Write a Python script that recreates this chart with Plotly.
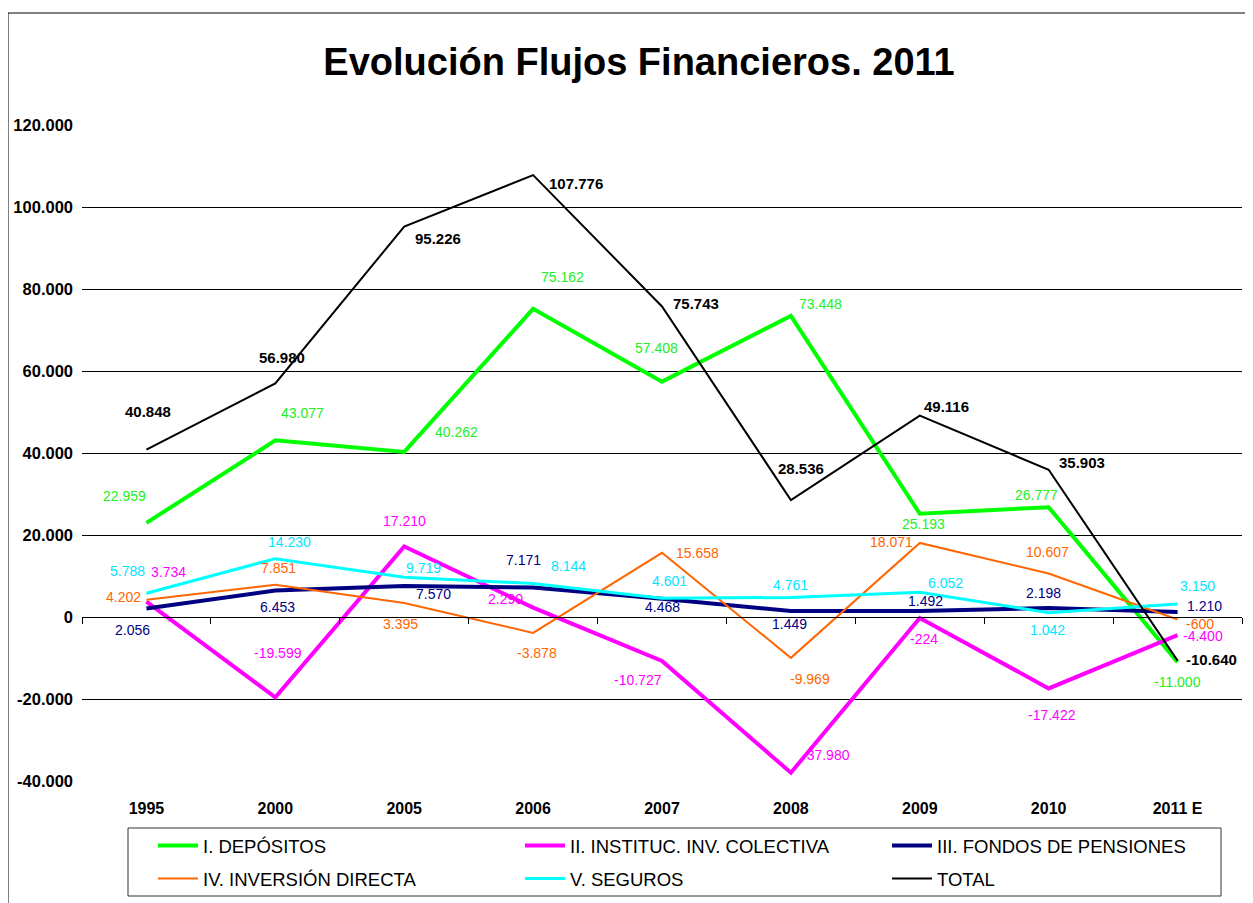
import plotly.graph_objects as go

categories = ["1995", "2000", "2005", "2006", "2007", "2008", "2009", "2010", "2011 E"]

depositos = [22959, 43077, 40262, 75162, 57408, 73448, 25193, 26777, -11000]
instituc = [3734, -19599, 17210, 2290, -10727, -37980, -224, -17422, -4400]
pensiones = [2056, 6453, 7570, 7171, 4468, 1449, 1492, 2198, 1210]
inversion = [4202, 7851, 3395, -3878, 15658, -9969, 18071, 10607, -600]
seguros = [5788, 14230, 9719, 8144, 4601, 4761, 6052, 1042, 3150]
total = [40848, 56980, 95226, 107776, 75743, 28536, 49116, 35903, -10640]

series_names = ["I. DEPÓSITOS", "II. INSTITUC. INV. COLECTIVA", "III. FONDOS DE PENSIONES",
                "IV. INVERSIÓN DIRECTA", "V. SEGUROS", "TOTAL"]

y_tick_values = [-40000, -20000, 0, 20000, 40000, 60000, 80000, 100000, 120000]
y_tick_labels = ["-40.000", "-20.000", "0", "20.000", "40.000", "60.000", "80.000", "100.000", "120.000"]

# styles
colors = ["#00FF00", "#FF00FF", "#000080", "#FF6600", "#00FFFF", "#000000"]
widths = [4, 4, 4, 2, 3, 2]
label_colors = ["#22EE22", "#FF00FF", "#000080", "#FF6600", "#00E5FF", "#000000"]
legend_ids = ["legend", "legend", "legend", "legend2", "legend2", "legend2"]

# label offsets (px, dx right, dy down) per series
offsets = [
    [(-22, -27), (27, -27), (52, -20), (29, -32), (-6, -34), (30, -12), (4, 10), (-12, -12), (0, 20)],
    [(22, -30), (3, -44), (0, -25), (-28, -9), (-24, 19), (35, -18), (4, 21), (3, 27), (25, 1)],
    [(-14, 21), (2, 16), (29, 8), (-10, -28), (0, 8), (-1, 13), (6, -10), (-5, -15), (27, -6)],
    [(-23, -3), (3, -17), (-4, 21), (4, 20), (35, 0), (19, 21), (-28, -1), (-1, -22), (22, 5)],
    [(-19, -22), (14, -17), (19, -9), (35, -18), (7, -17), (0, -12), (26, -9), (-1, 17), (20, -18)],
    [(2, -38), (7, -26), (34, 12), (43, 8), (34, -3), (10, -32), (27, -9), (33, -7), (34, -1)],
]

all_series = [depositos, instituc, pensiones, inversion, seguros, total]

FONT = "Arial, 'Liberation Sans', sans-serif"


def fmt(v):
    return f"{v:,}".replace(",", ".")


fig = go.Figure()
for name, vals, col, w, lg in zip(series_names, all_series, colors, widths, legend_ids):
    fig.add_trace(go.Scatter(x=categories, y=vals, mode="lines", name=name, legend=lg,
                             line=dict(color=col, width=w), hoverinfo="skip"))

annotations = []
for si, vals in enumerate(all_series):
    for ci, v in enumerate(vals):
        dx, dy = offsets[si][ci]
        is_total = si == 5
        annotations.append(dict(
            x=ci, y=v, xref="x", yref="y",
            text=("<b>" + fmt(v) + "</b>") if is_total else fmt(v), showarrow=False,
            xshift=dx, yshift=-dy,
            font=dict(family=FONT, size=15 if is_total else 14, color=label_colors[si]),
            xanchor="center", yanchor="middle",
        ))

# page has an 8px body margin; work in page pixels and convert
OFF = 8
W, H = 1253 - OFF, 903 - OFF
PL, PR, PT, PB = 82, 1242, 125, 781  # plot area in page pixels
L, R, T, B = PL - OFF, W - (PR - OFF), PT - OFF, H - (PB - OFF)
pw, ph = W - L - R, H - T - B


def px_x(p):
    return (p - PL) / pw


def px_y(p):
    return (PB - p) / ph


legend_common = dict(orientation="h", xanchor="left", yanchor="middle",
                     borderwidth=0, bgcolor="rgba(0,0,0,0)",
                     entrywidth=312, entrywidthmode="pixels",
                     font=dict(size=18.5, family=FONT, color="black"),
                     itemwidth=40)

fig.update_layout(
    width=W, height=H,
    margin=dict(l=L, r=R, t=T, b=B, autoexpand=False),
    paper_bgcolor="white", plot_bgcolor="white",
    font=dict(family=FONT, color="black"),
    title=dict(text="<b>Evolución Flujos Financieros. 2011</b>", x=px_x(639), xanchor="center",
               xref="paper", y=1 - (62 - OFF) / H, yanchor="middle", yref="container",
               font=dict(size=38, family=FONT, color="black")),
    xaxis=dict(type="category", showgrid=False, zeroline=False, showline=False, automargin=False,
               ticks="outside", ticklen=0, tickcolor="white", ticklabelstandoff=13,
               tickfont=dict(size=16, family=FONT, color="black", weight="bold"),
               range=[-0.5, 8.5]),
    xaxis2=dict(type="linear", overlaying="x", anchor="free", position=0.25, side="bottom",
                range=[-0.5, 8.5], tickmode="array",
                tickvals=[-0.5, 0.5, 1.5, 2.5, 3.5, 4.5, 5.5, 6.5, 7.5, 8.5],
                ticks="outside", ticklen=6, tickcolor="black", tickwidth=1, automargin=False,
                showticklabels=False, showline=True, linecolor="black", linewidth=1,
                showgrid=False, zeroline=False),
    yaxis=dict(range=[-40000, 120000], tickmode="array", tickvals=y_tick_values,
               ticktext=y_tick_labels, showgrid=True, gridcolor="black", gridwidth=1,
               zeroline=False, showline=False, ticks="", automargin=False, ticklabelstandoff=8,
               tickfont=dict(size=16.5, family=FONT, color="black", weight="bold")),
    legend=dict(x=px_x(153), y=px_y(846), **legend_common),
    legend2=dict(x=px_x(153), y=px_y(879), **legend_common),
    annotations=annotations,
    shapes=[
        dict(type="rect", xref="paper", yref="paper",
             x0=px_x(8), x1=px_x(1262), y0=px_y(912), y1=px_y(13),
             line=dict(color="black", width=1), fillcolor="rgba(0,0,0,0)", layer="below"),
        dict(type="rect", xref="paper", yref="paper",
             x0=px_x(128), x1=px_x(1221), y0=px_y(896), y1=px_y(828),
             line=dict(color="#333333", width=1), fillcolor="rgba(0,0,0,0)", layer="below"),
    ],
)

# dummy trace to activate xaxis2
fig.add_trace(go.Scatter(x=[None], y=[None], xaxis="x2", showlegend=False, hoverinfo="skip"))

fig.write_html("out.html")
